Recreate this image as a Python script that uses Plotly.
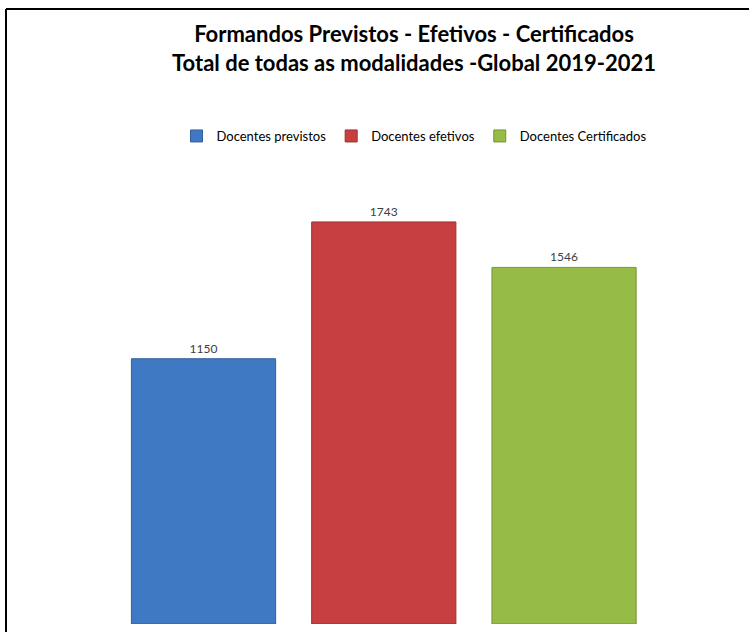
import plotly.graph_objects as go

series_names = ["Docentes previstos", "Docentes efetivos", "Docentes Certificados"]
values = [1150, 1743, 1546]
positions = [0, 1, 2]
colors = ["#4079c3", "#c83f3f", "#97bb47"]
edge_colors = ["#33609c", "#9c3030", "#779536"]

W, H = 749, 632
fig = go.Figure()
for name, v, p, c, e in zip(series_names, values, positions, colors, edge_colors):
    fig.add_trace(go.Bar(
        x=[p], y=[v], name=name, width=0.8,
        marker=dict(color=c, line=dict(color=e, width=1)),
        text=[str(v)], textposition="outside",
        textfont=dict(family="Lato, Open Sans, sans-serif", size=12, color="#404040"),
        cliponaxis=False,
    ))

top_px, bot_px = 150, 624
plot_h = bot_px - top_px

fig.update_layout(
    width=W, height=H,
    margin=dict(l=0, r=0, t=top_px, b=H - bot_px),
    paper_bgcolor="white", plot_bgcolor="white",
    barmode="overlay",
    title=dict(
        text="<b>Formandos Previstos - Efetivos - Certificados<br>Total de todas as modalidades -Global 2019-2021</b>",
        x=414 / W, xanchor="center", y=1 - 42 / H, yanchor="middle",
        font=dict(family="Lato, Open Sans, sans-serif", size=22, color="#000000"),
    ),
    legend=dict(
        orientation="h", x=414 / W, xanchor="center",
        y=(bot_px - 136) / plot_h, yanchor="middle",
        font=dict(family="Lato, Open Sans, sans-serif", size=13, color="#000000"),
        itemwidth=30, tracegroupgap=0,
    ),
    xaxis=dict(range=[-1.129, 3.026], visible=False, fixedrange=True),
    yaxis=dict(range=[0, 2055], visible=False, fixedrange=True),
    showlegend=True,
    shapes=[
        dict(type="line", xref="paper", yref="paper", x0=6 / W, x1=1.0,
             y0=(bot_px - 9) / plot_h, y1=(bot_px - 9) / plot_h,
             line=dict(color="black", width=2)),
        dict(type="line", xref="paper", yref="paper", x0=6 / W, x1=6 / W,
             y0=(bot_px - 9) / plot_h, y1=(bot_px - 640) / plot_h,
             line=dict(color="black", width=2)),
    ],
)

fig.write_html("out.html", config={"displayModeBar": False},
               post_script="document.body.style.margin='0';")
